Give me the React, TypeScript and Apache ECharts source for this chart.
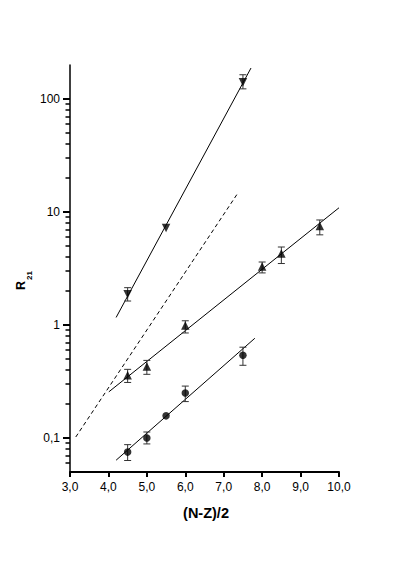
import React, { useEffect, useRef } from 'react';
import * as echarts from 'echarts';

const xTicks = [3, 4, 5, 6, 7, 8, 9, 10];
const yMajor = [0.1, 1, 10, 100];
const yMajorLabels = ['0,1', '1', '10', '100'];
const yMinor = [
  0.06, 0.07, 0.08, 0.09,
  0.2, 0.3, 0.4, 0.5, 0.6, 0.7, 0.8, 0.9,
  2, 3, 4, 5, 6, 7, 8, 9,
  20, 30, 40, 50, 60, 70, 80, 90,
];

const downTri = [[4.5, 1.87], [5.5, 7.2], [7.5, 141]];
const downTriErr = [[4.5, 1.63, 2.14], [7.5, 123, 164]];
const upTri = [[4.5, 0.36], [5.0, 0.43], [6.0, 0.99], [8.0, 3.3], [8.5, 4.3], [9.5, 7.5]];
const upTriErr = [[4.5, 0.31, 0.405], [5.0, 0.366, 0.486], [6.0, 0.85, 1.09], [8.0, 2.89, 3.61], [8.5, 3.5, 4.9], [9.5, 6.28, 8.5]];
const circles = [[4.5, 0.075], [5.0, 0.1], [5.5, 0.157], [6.0, 0.25], [7.5, 0.54]];
const circlesErr = [[4.5, 0.0632, 0.0873], [5.0, 0.0886, 0.113], [6.0, 0.21, 0.288], [7.5, 0.44, 0.636]];

const downFit = [[4.2, 1.166], [7.71, 188]];
const upFit = [[4.01, 0.256], [10, 10.9]];
const circFit = [[4.2, 0.0636], [7.81, 0.763]];
const dashedLine = [[3.15, 0.102], [7.35, 14.4]];

const FONT = '"Liberation Sans", Arial, Helvetica, sans-serif';

function errRender(params: any, api: any) {
  const x = api.value(0);
  const lo = api.value(1);
  const hi = api.value(2);
  const pLo = api.coord([x, lo]);
  const pHi = api.coord([x, hi]);
  const w = 3.5;
  const st = { stroke: '#333', lineWidth: 1 };
  return {
    type: 'group',
    children: [
      { type: 'line', shape: { x1: pLo[0], y1: pLo[1], x2: pHi[0], y2: pHi[1] }, style: st },
      { type: 'line', shape: { x1: pLo[0] - w, y1: pLo[1], x2: pLo[0] + w, y2: pLo[1] }, style: st },
      { type: 'line', shape: { x1: pHi[0] - w, y1: pHi[1], x2: pHi[0] + w, y2: pHi[1] }, style: st },
    ],
  };
}

function errSeries(data: number[][]) {
  return {
    type: 'custom',
    silent: true,
    renderItem: errRender,
    encode: { x: 0, y: [1, 2] },
    data,
    z: 2,
  };
}

function lineSeries(data: number[][], dashed = false) {
  return {
    type: 'line',
    silent: true,
    data,
    showSymbol: false,
    symbol: 'none',
    lineStyle: { color: '#000', width: 1, type: dashed ? [4, 3] : 'solid' },
    z: 1,
  };
}

const yBase = {
  type: 'log',
  logBase: 10,
  min: 0.05,
  max: 200,
  position: 'left',
  offset: 0,
  splitLine: { show: false },
  minorTick: { show: false },
};

export default function App() {
  const ref = useRef<HTMLDivElement>(null);
  useEffect(() => {
    if (!ref.current) return;
    const chart = echarts.init(ref.current, undefined, { renderer: 'svg' });
    const option: any = {
      animation: false,
      backgroundColor: '#fff',
      grid: { left: 70, right: 55, top: 65, bottom: 95 },
      xAxis: {
        type: 'value',
        min: xTicks[0],
        max: xTicks[xTicks.length - 1],
        interval: 1,
        axisLine: { onZero: false, lineStyle: { color: '#000', width: 2 } },
        axisTick: { show: true, length: 5, lineStyle: { color: '#000', width: 2 } },
        axisLabel: {
          color: '#000',
          fontSize: 12,
          fontFamily: FONT,
          margin: 9,
          formatter: (v: number) => v.toFixed(1).replace('.', ','),
        },
        splitLine: { show: false },
      },
      yAxis: [
        {
          ...yBase,
          axisLine: { show: true, onZero: false, lineStyle: { color: '#000', width: 1.5 } },
          axisTick: {
            show: true,
            length: 7,
            customValues: yMajor,
            lineStyle: { color: '#000', width: 2 },
          },
          axisLabel: {
            show: true,
            customValues: yMajor,
            margin: 10,
            color: '#000',
            fontSize: 12,
            fontFamily: FONT,
            formatter: (v: number) => {
              const i = yMajor.findIndex((m) => Math.abs(Math.log10(m) - Math.log10(v)) < 1e-6);
              return i >= 0 ? yMajorLabels[i] : '';
            },
          },
        },
        {
          ...yBase,
          axisLine: { show: false, onZero: false },
          axisTick: {
            show: true,
            length: 4.5,
            customValues: yMinor,
            lineStyle: { color: '#000', width: 1.5 },
          },
          axisLabel: { show: false },
        },
      ],
      graphic: [
        {
          type: 'text',
          x: 206,
          y: 513,
          style: {
            text: '(N-Z)/2',
            fontSize: 14.5,
            fontWeight: 'bold',
            fontFamily: FONT,
            fill: '#000',
            align: 'center',
            verticalAlign: 'middle',
          },
        },
        {
          type: 'text',
          x: 21,
          y: 285.5,
          rotation: Math.PI / 2,
          style: {
            text: 'R',
            fontSize: 12.5,
            fontWeight: 'bold',
            fontFamily: FONT,
            fill: '#000',
            align: 'center',
            verticalAlign: 'middle',
          },
        },
        {
          type: 'text',
          x: 29.5,
          y: 275.5,
          rotation: Math.PI / 2,
          style: {
            text: '21',
            fontSize: 8,
            fontWeight: 'bold',
            fontFamily: FONT,
            fill: '#000',
            align: 'center',
            verticalAlign: 'middle',
          },
        },
      ],
      series: [
        lineSeries(downFit),
        lineSeries(upFit),
        lineSeries(circFit),
        lineSeries(dashedLine, true),
        errSeries(downTriErr),
        errSeries(upTriErr),
        errSeries(circlesErr),
        {
          type: 'scatter',
          silent: true,
          data: downTri,
          symbol: 'triangle',
          symbolRotate: 180,
          symbolSize: 8.5,
          itemStyle: { color: '#000' },
          z: 3,
        },
        {
          type: 'scatter',
          silent: true,
          data: upTri,
          symbol: 'triangle',
          symbolSize: 8.5,
          itemStyle: { color: '#000' },
          z: 3,
        },
        {
          type: 'scatter',
          silent: true,
          data: circles,
          symbol: 'circle',
          symbolSize: 7.5,
          itemStyle: { color: '#000' },
          z: 3,
        },
      ],
    };
    chart.setOption(option);
    return () => chart.dispose();
  }, []);
  return (
    <div
      ref={ref}
      style={{ position: 'fixed', left: 0, top: 0, width: 394, height: 567, background: '#fff' }}
    />
  );
}
